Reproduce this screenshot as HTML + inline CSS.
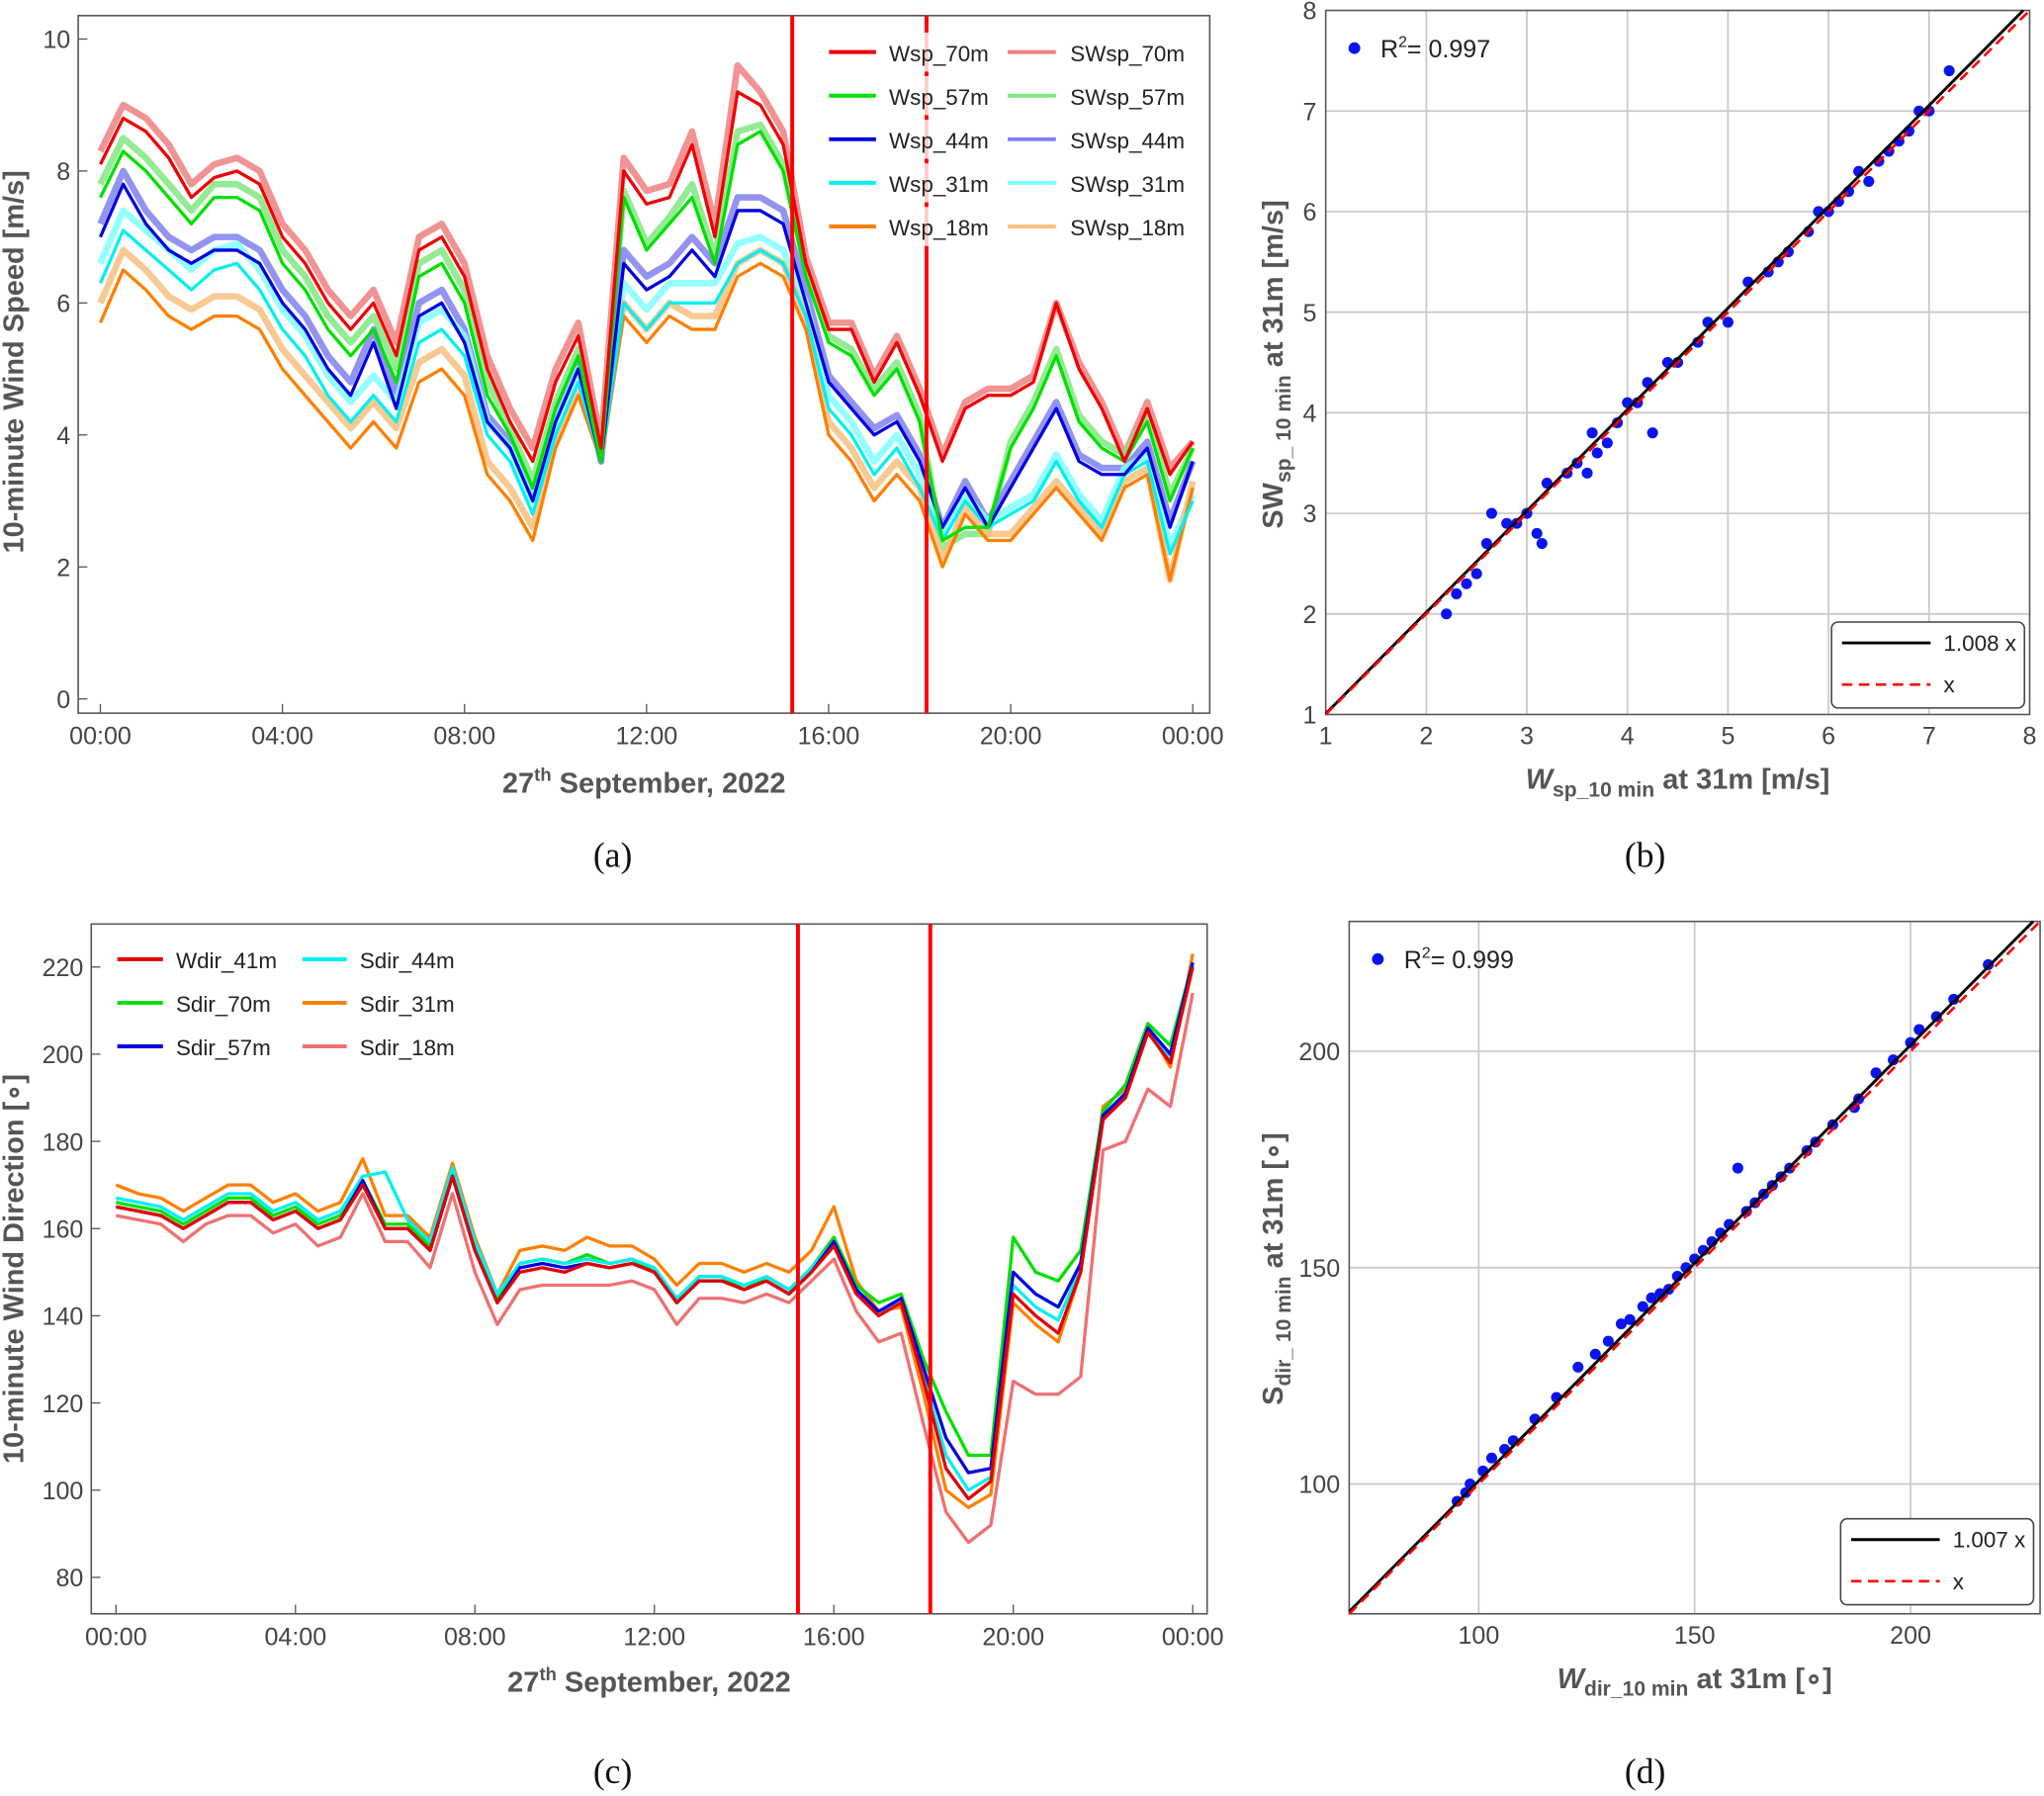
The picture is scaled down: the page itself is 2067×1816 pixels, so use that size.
<!DOCTYPE html>
<html><head><meta charset="utf-8"><style>
html,body{margin:0;padding:0;background:#fff}
svg{display:block;font-family:"Liberation Sans",sans-serif}
</style></head><body>
<svg id="fig" xmlns="http://www.w3.org/2000/svg" width="2067" height="1816" viewBox="0 0 1568 1380" preserveAspectRatio="none">
<g id="pa"></g>
<g id="pb"></g>
<g id="pc"></g>
<g id="pd"></g>
</svg>
<script>
// ---------- Panel (a) data: 30-min samples ----------
const timeTicks=[0,4,8,12,16,20,24];
const timeTickLabels=["00:00","04:00","08:00","12:00","16:00","20:00","00:00"];
const speedTicks=[0,2,4,6,8,10];
const markerHours=[15.2,18.15];
const wsp70=[8.1,8.8,8.6,8.2,7.6,7.9,8.0,7.8,7.0,6.6,6.0,5.6,6.0,5.2,6.8,7.0,6.4,5.0,4.2,3.6,4.8,5.5,3.8,8.0,7.5,7.6,8.4,7.0,9.2,9.0,8.4,6.6,5.6,5.6,4.8,5.4,4.6,3.6,4.4,4.6,4.6,4.8,6.0,5.0,4.4,3.6,4.4,3.4,3.9];
const wsp57=[7.6,8.3,8.0,7.6,7.2,7.6,7.6,7.4,6.6,6.2,5.6,5.2,5.6,4.8,6.4,6.6,6.0,4.6,4.0,3.2,4.4,5.2,3.6,7.6,6.8,7.2,7.6,6.6,8.4,8.6,8.0,6.4,5.4,5.2,4.6,5.0,4.2,2.4,2.6,2.6,3.8,4.4,5.2,4.2,3.8,3.6,4.2,3.0,3.8];
const wsp44=[7.0,7.8,7.2,6.8,6.6,6.8,6.8,6.6,6.0,5.6,5.0,4.6,5.4,4.4,5.8,6.0,5.4,4.2,3.8,3.0,4.2,5.0,3.6,6.6,6.2,6.4,6.8,6.4,7.4,7.4,7.2,6.0,4.8,4.4,4.0,4.2,3.6,2.6,3.2,2.6,3.2,3.8,4.4,3.6,3.4,3.4,3.8,2.6,3.6];
const wsp31=[6.3,7.1,6.8,6.5,6.2,6.5,6.6,6.2,5.6,5.2,4.6,4.2,4.6,4.2,5.4,5.6,5.2,4.0,3.6,2.8,4.0,4.8,3.6,6.0,5.6,6.0,6.0,6.0,6.6,6.8,6.6,5.8,4.4,4.0,3.4,3.8,3.2,2.4,3.0,2.6,2.8,3.0,3.6,3.0,2.6,3.4,3.6,2.2,3.0];
const wsp18=[5.7,6.5,6.2,5.8,5.6,5.8,5.8,5.6,5.0,4.6,4.2,3.8,4.2,3.8,4.8,5.0,4.6,3.4,3.0,2.4,3.8,4.6,3.6,5.8,5.4,5.8,5.6,5.6,6.4,6.6,6.4,5.6,4.0,3.6,3.0,3.4,3.0,2.0,2.8,2.4,2.4,2.8,3.2,2.8,2.4,3.2,3.4,1.8,3.2];
const swsp70=[8.3,9.0,8.8,8.4,7.8,8.1,8.2,8.0,7.2,6.8,6.2,5.8,6.2,5.4,7.0,7.2,6.6,5.2,4.4,3.8,5.0,5.7,3.9,8.2,7.7,7.8,8.6,7.2,9.6,9.2,8.6,6.7,5.7,5.7,4.9,5.5,4.7,3.7,4.5,4.7,4.7,4.9,6.0,5.1,4.5,3.7,4.5,3.5,3.9];
const swsp57=[7.8,8.5,8.2,7.8,7.4,7.8,7.8,7.6,6.8,6.4,5.8,5.4,5.8,5.0,6.6,6.8,6.2,4.8,4.1,3.3,4.5,5.3,3.6,7.7,6.9,7.3,7.8,6.7,8.6,8.7,8.1,6.5,5.5,5.3,4.7,5.1,4.3,2.3,2.5,2.5,3.9,4.5,5.3,4.3,3.9,3.7,4.3,3.1,3.8];
const swsp44=[7.2,8.0,7.4,7.0,6.8,7.0,7.0,6.8,6.2,5.8,5.2,4.8,5.6,4.6,6.0,6.2,5.6,4.3,3.9,3.1,4.3,5.1,3.6,6.8,6.4,6.6,7.0,6.6,7.6,7.6,7.4,6.2,4.9,4.5,4.1,4.3,3.7,2.6,3.3,2.7,3.3,3.9,4.5,3.7,3.5,3.5,3.9,2.7,3.6];
const swsp31=[6.6,7.4,7.1,6.8,6.5,6.8,6.9,6.5,5.9,5.5,4.9,4.5,4.9,4.5,5.7,5.9,5.5,4.2,3.8,3.0,4.2,5.0,3.7,6.3,5.9,6.3,6.3,6.3,6.9,7.0,6.8,6.0,4.6,4.2,3.6,4.0,3.4,2.5,3.1,2.7,2.9,3.1,3.7,3.1,2.7,3.5,3.7,2.3,3.1];
const swsp18=[6.0,6.8,6.5,6.1,5.9,6.1,6.1,5.9,5.3,4.9,4.5,4.1,4.5,4.1,5.1,5.3,4.9,3.6,3.2,2.6,3.9,4.7,3.7,6.0,5.6,6.0,5.8,5.8,6.6,6.8,6.6,5.8,4.2,3.8,3.2,3.6,3.2,2.1,2.9,2.5,2.5,2.9,3.3,2.9,2.5,3.3,3.5,1.8,3.3];

// ---------- Panel (b) data ----------
const bTicks=[1,2,3,4,5,6,7,8];
const bW=[2.2,2.3,2.4,2.5,2.6,2.65,2.8,2.9,3.0,3.1,3.15,3.2,3.4,3.5,3.6,3.65,3.7,3.8,3.9,4.0,4.1,4.2,4.25,4.4,4.5,4.7,4.8,5.0,5.2,5.4,5.5,5.6,5.8,5.9,6.0,6.1,6.2,6.3,6.4,6.5,6.6,6.7,6.8,6.9,7.0,7.2];
const bSW=[2.0,2.2,2.3,2.4,2.7,3.0,2.9,2.9,3.0,2.8,2.7,3.3,3.4,3.5,3.4,3.8,3.6,3.7,3.9,4.1,4.1,4.3,3.8,4.5,4.5,4.7,4.9,4.9,5.3,5.4,5.5,5.6,5.8,6.0,6.0,6.1,6.2,6.4,6.3,6.5,6.6,6.7,6.8,7.0,7.0,7.4];

// ---------- Panel (c) data ----------
const dirTicks=[80,100,120,140,160,180,200,220];
const wdir41=[165,164,163,160,163,166,166,162,164,160,162,170,160,160,155,172,155,143,150,151,150,152,151,152,150,143,148,148,146,148,145,150,156,145,140,143,125,105,98,102,145,140,136,150,185,190,205,198,220];
const sdir70=[166,165,164,161,164,167,167,163,165,161,163,171,161,161,156,173,156,144,152,153,152,154,152,153,150,144,149,149,146,149,146,151,158,147,143,145,130,118,108,108,158,150,148,155,187,193,207,202,221];
const sdir57=[165,164,163,160,163,166,166,162,164,160,162,171,160,160,155,172,155,143,151,152,151,152,151,152,150,143,148,148,146,148,145,150,157,146,141,144,128,112,104,105,150,145,142,152,186,191,206,200,221];
const sdir44=[167,166,165,162,165,168,168,164,166,162,164,172,173,162,157,174,157,145,152,153,152,153,152,153,151,144,149,149,147,149,146,151,157,146,141,143,126,108,100,103,147,142,139,151,186,191,205,199,221];
const sdir31=[170,168,167,164,167,170,170,166,168,164,166,176,163,163,158,175,158,145,155,156,155,158,156,156,153,147,152,152,150,152,150,155,165,148,141,142,122,100,96,99,143,138,134,150,188,192,206,197,223];
const sdir18=[163,162,161,157,161,163,163,159,161,156,158,168,157,157,151,168,150,138,146,147,147,147,147,148,146,138,144,144,143,145,143,148,153,141,134,136,115,95,88,92,125,122,122,126,178,180,192,188,214];

// ---------- Panel (d) data ----------
const dTicks=[100,150,200];
const dW=[95,97,98,101,103,106,108,113,118,123,127,130,133,135,138,140,142,144,146,148,150,152,154,156,158,160,162,164,166,168,170,172,176,178,182,187,188,192,196,200,202,206,210,218];
const dS=[96,98,100,103,106,108,110,115,120,127,130,133,137,138,141,143,144,145,148,150,152,154,156,158,160,173,163,165,167,169,171,173,177,179,183,187,189,195,198,202,205,208,212,220];

const NS="http://www.w3.org/2000/svg";
function mk(parent,tag,attrs){const e=document.createElementNS(NS,tag);for(const k in attrs)e.setAttribute(k,attrs[k]);parent.appendChild(e);return e;}
function txt(parent,x,y,s,attrs){const e=mk(parent,'text',Object.assign({x:x,y:y},attrs));e.textContent=s;return e;}
const tickStyle={'font-size':19,fill:'#444','text-anchor':'middle'};

function frame(g,x0,y0,x1,y1){const r=mk(g,'rect',{x:x0,y:y0,width:x1-x0,height:y1-y0,fill:'none',stroke:'#555','stroke-width':1.2});

}

function series(g,vals,xf,yf,color,w,op,name){
  const d=vals.map((v,i)=>(i?'L':'M')+xf(i).toFixed(1)+','+yf(v).toFixed(1)).join('');
  const p=mk(g,'path',{d:d,fill:'none',stroke:color,'stroke-width':w,'stroke-opacity':op,'stroke-linejoin':'round'});
  
  
}

// ===== Panel A =====
(function(){
const g=document.getElementById('pa');
const X=h=>77+h*(915-77)/24, Y=v=>537-v*(537-30)/10, Xi=i=>X(i*0.5);
frame(g,60,12,928,548);
timeTicks.forEach((t,i)=>{mk(g,'line',{x1:X(t),x2:X(t),y1:548,y2:541,stroke:'#555'});
const l=txt(g,X(t),572,timeTickLabels[i],tickStyle);});
speedTicks.forEach(v=>{mk(g,'line',{x1:60,x2:67,y1:Y(v),y2:Y(v),stroke:'#555'});
const l=txt(g,54,Y(v)+7,String(v),Object.assign({},tickStyle,{'text-anchor':'end'}));});
const sw=[[swsp70,'#f08080'],[swsp57,'#80e880'],[swsp44,'#8080f0'],[swsp31,'#80ffff'],[swsp18,'#f8c080']];
sw.forEach((s,k)=>series(g,s[0],Xi,Y,s[1],5,0.85,'sw-series-'+k));
const ws=[[wsp18,'#ff7f00'],[wsp31,'#00f0f0'],[wsp44,'#0000e0'],[wsp57,'#00e000'],[wsp70,'#f00000']];
ws.forEach((s,k)=>series(g,s[0],Xi,Y,s[1],2.5,1,'w-series-'+k));
markerHours.forEach(h=>{const l=mk(g,'line',{x1:X(h),x2:X(h),y1:12,y2:548,stroke:'#f00','stroke-width':3});});
const leg=[['Wsp_70m','#f00000','SWsp_70m','#f08080'],['Wsp_57m','#00e000','SWsp_57m','#80e880'],['Wsp_44m','#0000e0','SWsp_44m','#8080f0'],['Wsp_31m','#00f0f0','SWsp_31m','#80ffff'],['Wsp_18m','#ff7f00','SWsp_18m','#f8c080']];
leg.forEach((e,i)=>{const y=40+i*33.5;
mk(g,'rect',{x:632,y:y-15,width:140,height:30,fill:'#fff','fill-opacity':0.8});
mk(g,'line',{x1:636,x2:672,y1:y,y2:y,stroke:e[1],'stroke-width':3});
const a=txt(g,682,y+7,e[0],{'font-size':17,fill:'#222'});
mk(g,'line',{x1:773,x2:810,y1:y,y2:y,stroke:e[3],'stroke-width':3});
const b=txt(g,821,y+7,e[2],{'font-size':17,fill:'#222'});});
const yt=txt(g,0,0,'10-minute Wind Speed [m/s]',{'font-size':22,'font-weight':'bold',fill:'#555','text-anchor':'middle',transform:'translate(18,278) rotate(-90)'});

const xt=mk(g,'text',{x:494,y:609,'font-size':22,'font-weight':'bold',fill:'#555','text-anchor':'middle'});
xt.innerHTML='27<tspan dy="-9" font-size="14">th</tspan><tspan dy="9"> September, 2022</tspan>';

const c=txt(g,470,666,'(a)',{'font-size':27,'font-family':'Liberation Serif',fill:'#111','text-anchor':'middle'});
})();

// ===== Panel B =====
function scatterPanel(gid,x0,x1,y0,y1,vmin,vmax,ticks,xs,ys,slope,r2,lbl,legBox,cap,capX,capY,ytitle,xtitle,ytitleX,ytitleY,xtitleY){
const g=document.getElementById(gid);
const X=v=>x0+(v-vmin)*(x1-x0)/(vmax-vmin), Y=v=>y1-(v-vmin)*(y1-y0)/(vmax-vmin);
ticks.forEach(t=>{
 if(t>vmin&&t<vmax){mk(g,'line',{x1:X(t),x2:X(t),y1:y0,y2:y1,stroke:'#c8c8c8','stroke-width':1.3});mk(g,'line',{x1:x0,x2:x1,y1:Y(t),y2:Y(t),stroke:'#c8c8c8','stroke-width':1.3});}
 const a=txt(g,X(t),y1+23,String(t),tickStyle);
 const b=txt(g,x0-7,Y(t)+7,String(t),Object.assign({},tickStyle,{'text-anchor':'end'}));
});
frame(g,x0,y0,x1,y1);
xs.forEach((v,i)=>{const c=mk(g,'circle',{cx:X(v),cy:Y(ys[i]),r:4.2,fill:'#0a14f0'});});
const l1=mk(g,'line',{x1:X(vmin),y1:Y(vmin*slope),x2:X(vmax/slope),y2:Y(vmax),stroke:'#000','stroke-width':2.2});
const l2=mk(g,'line',{x1:X(vmin),y1:Y(vmin),x2:X(vmax),y2:Y(vmax),stroke:'#f00','stroke-width':2,'stroke-dasharray':'8,5'});
mk(g,'circle',{cx:x0+22,cy:y0+29,r:4.5,fill:'#0a14f0'});
const r=mk(g,'text',{x:x0+42,y:y0+36,'font-size':19,fill:'#222'});r.innerHTML='R<tspan dy="-8" font-size="12">2</tspan><tspan dy="8">= '+r2+'</tspan>';

const [bx,by]=legBox;
const lb=mk(g,'rect',{x:bx,y:by,width:148,height:66,rx:5,fill:'#fff',stroke:'#444','stroke-width':1.2});
mk(g,'line',{x1:bx+8,x2:bx+76,y1:by+16,y2:by+16,stroke:'#000','stroke-width':2.2});
const e1=txt(g,bx+86,by+22,lbl,{'font-size':17,fill:'#222'});
mk(g,'line',{x1:bx+8,x2:bx+76,y1:by+48,y2:by+48,stroke:'#f00','stroke-width':2,'stroke-dasharray':'8,5'});
const e2=txt(g,bx+86,by+54,'x',{'font-size':17,fill:'#222'});
const yt=mk(g,'text',{x:0,y:0,'font-size':22,'font-weight':'bold',fill:'#555','text-anchor':'middle',transform:'translate('+ytitleX+','+ytitleY+') rotate(-90)'});
yt.innerHTML=ytitle;
const xt=mk(g,'text',{x:(x0+x1)/2,y:xtitleY,'font-size':22,'font-weight':'bold',fill:'#555','text-anchor':'middle'});
xt.innerHTML=xtitle;
const c=txt(g,capX,capY,cap,{'font-size':27,'font-family':'Liberation Serif',fill:'#111','text-anchor':'middle'});
}
scatterPanel('pb',1017,1557,8,549,1,8,bTicks,bW,bSW,1.008,'0.997','1.008 x',[1405,478],'(b)',1262,666,
 'SW<tspan dy="6" font-size="16">sp_ 10 min</tspan><tspan dy="-6"> at 31m [m/s]</tspan>',
 '<tspan font-style="italic">W</tspan><tspan dy="6" font-size="16">sp_10 min</tspan><tspan dy="-6"> at 31m [m/s]</tspan>',984,280,606);

// ===== Panel C =====
(function(){
const g=document.getElementById('pc');
const X=h=>89+h*(915-89)/24, Y=v=>1212-(v-80)*(1212-743)/140, Xi=i=>X(i*0.5);
frame(g,70,710,926,1240);
timeTicks.forEach((t,i)=>{mk(g,'line',{x1:X(t),x2:X(t),y1:1240,y2:1233,stroke:'#555'});
const l=txt(g,X(t),1264,timeTickLabels[i],tickStyle);});
dirTicks.forEach(v=>{mk(g,'line',{x1:70,x2:77,y1:Y(v),y2:Y(v),stroke:'#555'});
const l=txt(g,64,Y(v)+7,String(v),Object.assign({},tickStyle,{'text-anchor':'end'}));});
const ss=[[sdir18,'#f07070'],[sdir31,'#ff8000'],[sdir70,'#00e000'],[sdir44,'#00f0f0'],[sdir57,'#0000e0'],[wdir41,'#e00000']];
ss.forEach((s,k)=>series(g,s[0],Xi,Y,s[1],2.5,1,'direction-series-'+k));
markerHours.forEach(h=>{const l=mk(g,'line',{x1:X(h),x2:X(h),y1:710,y2:1240,stroke:'#f00','stroke-width':3});});
const leg=[['Wdir_41m','#e00000','Sdir_44m','#00f0f0'],['Sdir_70m','#00e000','Sdir_31m','#ff8000'],['Sdir_57m','#0000e0','Sdir_18m','#f07070']];
leg.forEach((e,i)=>{const y=737+i*33.5;
mk(g,'line',{x1:90,x2:125,y1:y,y2:y,stroke:e[1],'stroke-width':3});
const a=txt(g,135,y+7,e[0],{'font-size':17,fill:'#222'});
mk(g,'line',{x1:232,x2:266,y1:y,y2:y,stroke:e[3],'stroke-width':3});
const b=txt(g,276,y+7,e[2],{'font-size':17,fill:'#222'});});
const yt=txt(g,0,0,'10-minute Wind Direction [\u2218]',{'font-size':22,'font-weight':'bold',fill:'#555','text-anchor':'middle',transform:'translate(18,975) rotate(-90)'});

const xt=mk(g,'text',{x:498,y:1300,'font-size':22,'font-weight':'bold',fill:'#555','text-anchor':'middle'});
xt.innerHTML='27<tspan dy="-9" font-size="14">th</tspan><tspan dy="9"> September, 2022</tspan>';

const c=txt(g,470,1370,'(c)',{'font-size':27,'font-family':'Liberation Serif',fill:'#111','text-anchor':'middle'});
})();

// ===== Panel D =====
scatterPanel('pd',1035,1565,708,1240,70,230,dTicks,dW,dS,1.007,'0.999','1.007 x',[1412,1167],'(d)',1262,1370,
 'S<tspan dy="6" font-size="16">dir_ 10 min</tspan><tspan dy="-6"> at 31m [\u2218]</tspan>',
 '<tspan font-style="italic">W</tspan><tspan dy="6" font-size="16">dir_10 min</tspan><tspan dy="-6"> at 31m [\u2218]</tspan>',984,975,1297);
</script>
</body></html>
